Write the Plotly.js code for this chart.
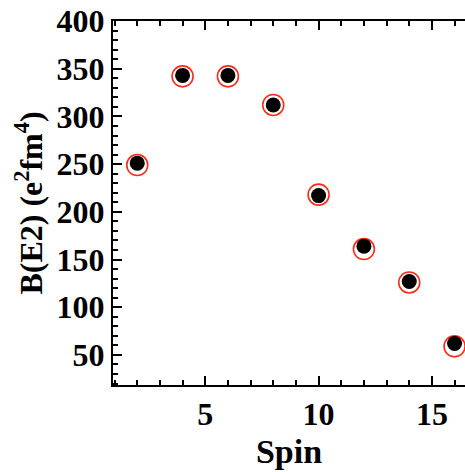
<!DOCTYPE html>
<html>
<head>
<meta charset="utf-8">
<script src="https://cdn.plot.ly/plotly-3.0.1.min.js"></script>
<style>html,body{margin:0;padding:0;background:#fff;}#chart{width:465px;height:472px;}</style>
</head>
<body>
<div id="chart"></div>
<script>
const spin = [2, 4, 6, 8, 10, 12, 14, 16];
const be2Black = [251, 343, 343, 312, 217, 164, 127, 62];
const be2Red = [249, 342, 342, 312, 218, 161, 126, 59];
const xTickVals = [5, 10, 15];
const yTickVals = [50, 100, 150, 200, 250, 300, 350, 400];

const font = "Liberation Serif, Times New Roman, serif";

const traces = [
  {
    x: spin, y: be2Red, type: 'scatter', mode: 'markers',
    marker: {symbol: 'circle-open', size: 21, color: '#ff2a1a', line: {width: 1.6, color: '#ff2a1a'}},
    hoverinfo: 'skip', showlegend: false
  },
  {
    x: spin, y: be2Black, type: 'scatter', mode: 'markers',
    marker: {symbol: 'circle', size: 15, color: '#000000', line: {width: 0}},
    hoverinfo: 'skip', showlegend: false
  }
];

const axisCommon = {
  showgrid: false, zeroline: false, showline: true,
  linecolor: '#000', linewidth: 2,
  ticks: 'inside', ticklen: 9, tickwidth: 2, tickcolor: '#000',
  tickfont: {family: font, size: 32, color: '#000', weight: 'bold'}
};

const layout = {
  width: 465, height: 472,
  margin: {l: 113, r: 0, t: 21, b: 87},
  paper_bgcolor: '#fff', plot_bgcolor: '#fff',
  font: {family: font, color: '#000'},
  xaxis: Object.assign({}, axisCommon, {
    range: [0.93, 16.46], tickmode: 'array', tickvals: xTickVals,
    ticktext: xTickVals.map(String),
    mirror: 'ticks',
    minor: {dtick: 1, tick0: 0, ticks: 'inside', ticklen: 5, tickwidth: 2, tickcolor: '#000'},
    title: {text: '<b>Spin</b>', font: {family: font, size: 34, color: '#000'}, standoff: 8}
  }),
  yaxis: Object.assign({}, axisCommon, {
    range: [18.5, 400], tickmode: 'array', tickvals: yTickVals,
    ticktext: yTickVals.map(String),
    mirror: false,
    minor: {dtick: 10, tick0: 0, ticks: 'inside', ticklen: 5, tickwidth: 2, tickcolor: '#000'},
    title: {text: '<b>B(E2) (e<sup>2</sup>fm<sup>4</sup>)</b>', font: {family: font, size: 32, color: '#000'}, standoff: 4}
  })
};

Plotly.newPlot('chart', traces, layout, {staticPlot: true, displayModeBar: false});
</script>
</body>
</html>
